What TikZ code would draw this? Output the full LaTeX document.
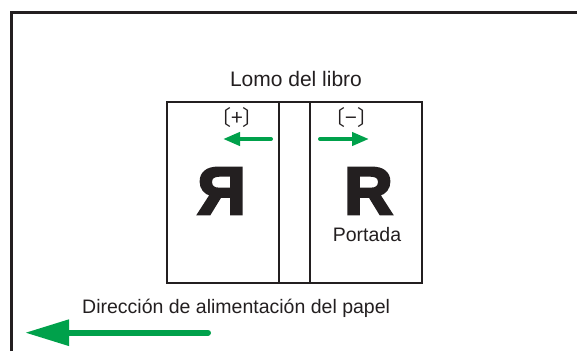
\documentclass[tikz,border=0pt]{standalone}
\usepackage{fontspec}
\setmainfont{Liberation Sans}
\newfontfamily\cjkfont{Noto Sans CJK JP}
\newfontfamily\heavyfont{Liberation Sans Bold}[FakeBold=4]
\usepackage{tikz}
\usetikzlibrary{arrows.meta}
\usepackage{xcolor}
\definecolor{feedgreen}{RGB}{0,161,75}
\definecolor{inkgray}{RGB}{35,31,32}

\tikzset{
	label text/.style={inner sep=0pt, text=inkgray, font=\fontsize{19.5}{22}\selectfont},
	big letter/.style={inner sep=0pt, text=inkgray, font=\fontsize{67}{70}\selectfont\heavyfont},
	sign text/.style={inner sep=0pt, text=inkgray, font=\fontsize{21}{24}\selectfont\cjkfont},
	small arrow/.style={draw=feedgreen, line width=4pt, line cap=round,
		-{Triangle[length=17pt, width=13pt]}},
	feed arrow/.style={draw=feedgreen, line width=6pt, line cap=round,
		-{Triangle[length=44pt, width=25pt]}}
}

\begin{document}
\begin{tikzpicture}[x=1pt, y=1pt]
		\useasboundingbox (0,0) rectangle (577,351);
		
		% Outer frame (left and top edges only)
		\draw[inkgray, line width=2.6pt] (11.5,0) -- (11.5,338.5) -- (577,338.5);
		
		% Open book with spine
		\draw[inkgray, line width=2pt] (167,68.5) rectangle (422,248.5);
		\coordinate (spineA top) at (279,248.5);
		\coordinate (spineA bottom) at (279,68.5);
		\coordinate (spineB top) at (310,248.5);
		\coordinate (spineB bottom) at (310,68.5);
		\draw[inkgray, line width=1.4pt] (spineA top) -- (spineA bottom);
		\draw[inkgray, line width=1.4pt] (spineB top) -- (spineB bottom);
		\node[label text, anchor=base, font=\fontsize{21}{24}\selectfont] (spine) at (296,264.3) {Lomo del libro};
		
		% Shift signs and arrows
		\node[sign text] (plus) at (237,233) {〔+〕};
		\node[sign text] (minus) at (351.5,233) {〔−〕};
		\coordinate (plus tail) at (271,212);
		\coordinate (plus tip) at (223,212);
		\coordinate (minus tail) at (320,212);
		\coordinate (minus tip) at (369,212);
		\draw[small arrow] (plus tail) -- (plus tip);
		\draw[small arrow] (minus tail) -- (minus tip);
		
		% Back page (mirrored) and front cover
		\node[big letter, anchor=base, xscale=-1] (back R) at (221.5,137) {R};
		\node[big letter, anchor=base] (front R) at (368.5,137) {R};
		\node[label text, anchor=base] (cover) at (367,109.5) {Portada};
		
		% Paper feed direction
		\node[label text, anchor=base west] (feed) at (82,38) {Dirección de alimentación del papel};
		\coordinate (feed tail) at (208,18.3);
		\coordinate (feed tip) at (25,18.3);
		\draw[feed arrow] (feed tail) -- (feed tip);
	\end{tikzpicture}
\end{document}
